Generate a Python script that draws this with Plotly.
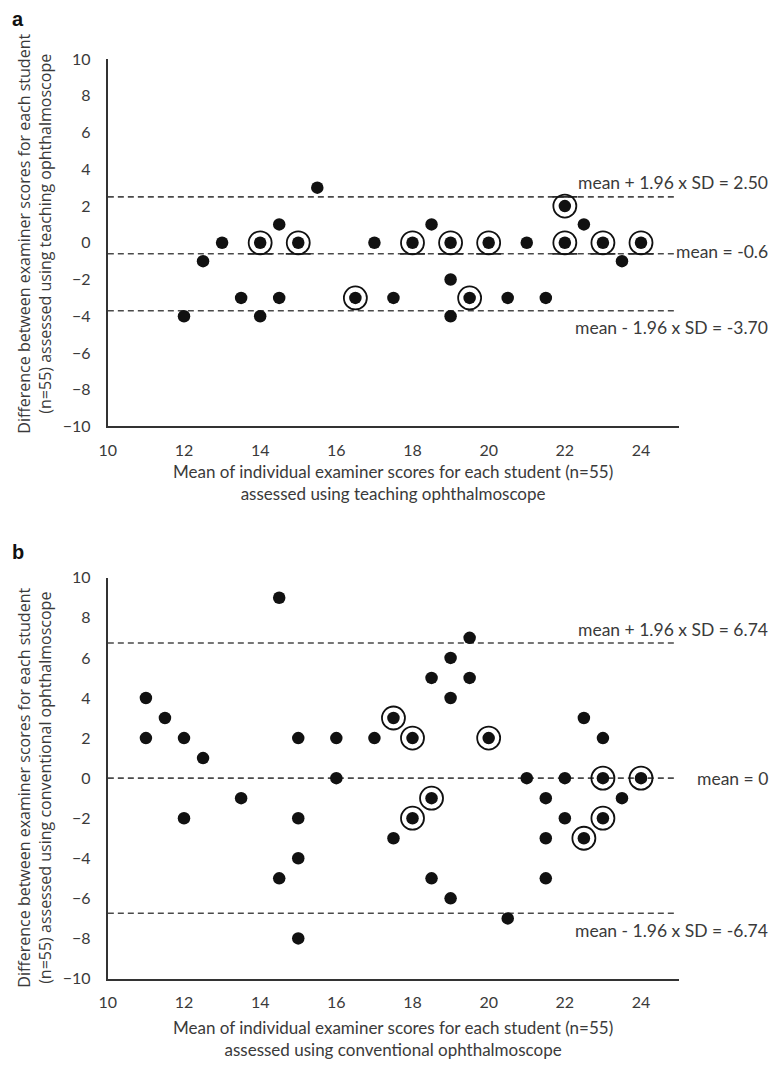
import plotly.graph_objects as go

# ---------------- data ----------------
x_tick_vals = [10, 12, 14, 16, 18, 20, 22, 24]
y_tick_vals = [-10, -8, -6, -4, -2, 0, 2, 4, 6, 8, 10]

# Panel a (teaching ophthalmoscope)
a_dot_x = [12, 12.5, 13, 13.5, 14, 14.5, 14.5, 15.5, 17, 17.5, 18.5, 19, 19, 20.5, 21, 21.5, 22.5, 23.5]
a_dot_y = [-4, -1, 0, -3, -4, 1, -3, 3, 0, -3, 1, -2, -4, -3, 0, -3, 1, -1]
a_ring_x = [14, 15, 16.5, 18, 19, 19.5, 20, 22, 22, 23, 24]
a_ring_y = [0, 0, -3, 0, 0, -3, 0, 2, 0, 0, 0]
a_upper, a_mean, a_lower = 2.50, -0.6, -3.70
a_labels = ["mean + 1.96 x SD = 2.50", "mean = -0.6", "mean - 1.96 x SD = -3.70"]

# Panel b (conventional ophthalmoscope)
b_dot_x = [11, 11, 11.5, 12, 12, 12.5, 13.5, 14.5, 14.5, 15, 15, 15, 15, 16, 16, 17, 17.5,
           18.5, 18.5, 19, 19, 19, 19.5, 19.5, 20.5, 21, 21.5, 21.5, 21.5, 22, 22, 22.5, 23, 23.5]
b_dot_y = [4, 2, 3, 2, -2, 1, -1, 9, -5, 2, -2, -4, -8, 2, 0, 2, -3,
           5, -5, 6, 4, -6, 7, 5, -7, 0, -1, -3, -5, 0, -2, 3, 2, -1]
b_ring_x = [17.5, 18, 18, 18.5, 20, 22.5, 23, 23, 24]
b_ring_y = [3, 2, -2, -1, 2, -3, 0, -2, 0]
b_upper, b_mean, b_lower = 6.74, 0, -6.74
b_labels = ["mean + 1.96 x SD = 6.74", "mean = 0", "mean - 1.96 x SD = -6.74"]

a_xtitle = "Mean of individual examiner scores for each student (n=55)<br>assessed using teaching ophthalmoscope"
a_ytitle = "Difference between examiner scores for each student<br>(n=55) assessed using teaching ophthalmoscope"
b_xtitle = "Mean of individual examiner scores for each student (n=55)<br>assessed using conventional ophthalmoscope"
b_ytitle = "Difference between examiner scores for each student<br>(n=55) assessed using conventional ophthalmoscope"

# ---------------- layout geometry (pixels) ----------------
W, H = 772, 1071
X0, X1 = 100, 678
A_TOP, A_BOT = 50, 424
B_TOP, B_BOT = 578, 986
XR = [10, 25]
YR = [-10, 10]

def py(p):
    return 1 - p / H

def px(p):
    return p / W

FONT = "Lato"
TXT = "#3a3a3a"
LINE_END = 24.9
RING_R = 12  # px

fig = go.Figure()

def add_panel(xa, ya, dots_x, dots_y, rings_x, rings_y, lines, top, bot):
    ppu_y = (bot - top) / (YR[1] - YR[0])
    ppu_x = (X1 - X0) / (XR[1] - XR[0])
    for L in lines:
        fig.add_trace(go.Scatter(x=[XR[0], LINE_END], y=[L, L], mode="lines",
                                 line=dict(color="#4a4a4a", width=1.6, dash="6px,4px"),
                                 xaxis=xa, yaxis=ya, showlegend=False, hoverinfo="skip"))
    # solid segments where a ring touches a line
    for rx, ry in zip(rings_x, rings_y):
        for L in lines:
            d = abs(ry - L) * ppu_y
            if 8 <= d <= 12.5:
                hw = RING_R / ppu_x * 1.05
                fig.add_trace(go.Scatter(x=[rx - hw, rx + hw], y=[L, L], mode="lines",
                                         line=dict(color="#2a2a2a", width=1.8),
                                         xaxis=xa, yaxis=ya, showlegend=False, hoverinfo="skip"))
    fig.add_trace(go.Scatter(x=rings_x, y=rings_y, mode="markers",
                             marker=dict(symbol="circle-open", size=23, color="#111111",
                                         line=dict(width=1.8, color="#111111")),
                             xaxis=xa, yaxis=ya, showlegend=False))
    fig.add_trace(go.Scatter(x=dots_x + rings_x, y=dots_y + rings_y, mode="markers",
                             marker=dict(symbol="circle", size=12.5, color="#111111"),
                             xaxis=xa, yaxis=ya, showlegend=False))

add_panel("x", "y", a_dot_x, a_dot_y, a_ring_x, a_ring_y, [a_upper, a_mean, a_lower], A_TOP, A_BOT)
add_panel("x2", "y2", b_dot_x, b_dot_y, b_ring_x, b_ring_y, [b_upper, b_mean, b_lower], B_TOP, B_BOT)

axis_common = dict(showgrid=False, zeroline=False, showline=True, linecolor="#333333",
                   linewidth=2, ticks="", tickfont=dict(family=FONT, size=16, color=TXT),
                   fixedrange=True)

fig.update_layout(
    width=W, height=H, margin=dict(l=0, r=0, t=0, b=0),
    paper_bgcolor="white", plot_bgcolor="white", showlegend=False,
    xaxis=dict(domain=[px(X0), px(X1)], range=XR, anchor="y", tickvals=x_tick_vals,
               ticklabelstandoff=8, **axis_common),
    yaxis=dict(domain=[py(A_BOT), py(A_TOP)], range=YR, anchor="x", tickvals=y_tick_vals,
               ticklabelstandoff=12, **axis_common),
    xaxis2=dict(domain=[px(X0), px(X1)], range=XR, anchor="y2", tickvals=x_tick_vals,
                ticklabelstandoff=8, **axis_common),
    yaxis2=dict(domain=[py(B_BOT), py(B_TOP)], range=YR, anchor="x2", tickvals=y_tick_vals,
                ticklabelstandoff=12, **axis_common),
)

ann = []
def txt(text, x, y, xanchor="center", yanchor="middle", size=15, angle=0, bold=False, family=FONT):
    ann.append(dict(text=("<b>%s</b>" % text) if bold else text, x=px(x), y=py(y),
                    xref="paper", yref="paper", xanchor=xanchor, yanchor=yanchor,
                    showarrow=False, textangle=angle,
                    font=dict(family=family, size=size, color=TXT if not bold else "#111111")))

# panel letters
txt("a", 1, 9, xanchor="left", size=20, bold=True, family="Liberation Sans")
txt("b", 1, 552, xanchor="left", size=20, bold=True, family="Liberation Sans")

# axis titles
txt(a_xtitle, 389, 481, size=17)
txt(b_xtitle, 389, 1047, size=17)
txt(a_ytitle, 26, 228, angle=-90, size=16, family="Open Sans")
txt(b_ytitle, 26, 792, angle=-90, size=16, family="Open Sans")

# reference line labels
txt(a_labels[0], 770, 176, xanchor="right", size=17.5)
txt(a_labels[1], 770, 246, xanchor="right", size=17.5)
txt(a_labels[2], 770, 323, xanchor="right", size=17.5)
txt(b_labels[0], 770, 631, xanchor="right", size=17.5)
txt(b_labels[1], 770, 782, xanchor="right", size=17.5)
txt(b_labels[2], 770, 937, xanchor="right", size=17.5)

fig.update_layout(annotations=ann)
fig.write_html(
    "out.html",
    config={"displayModeBar": False},
    post_script="document.body.style.margin='0';document.body.style.overflow='hidden';"
                "document.documentElement.style.overflow='hidden';",
)
